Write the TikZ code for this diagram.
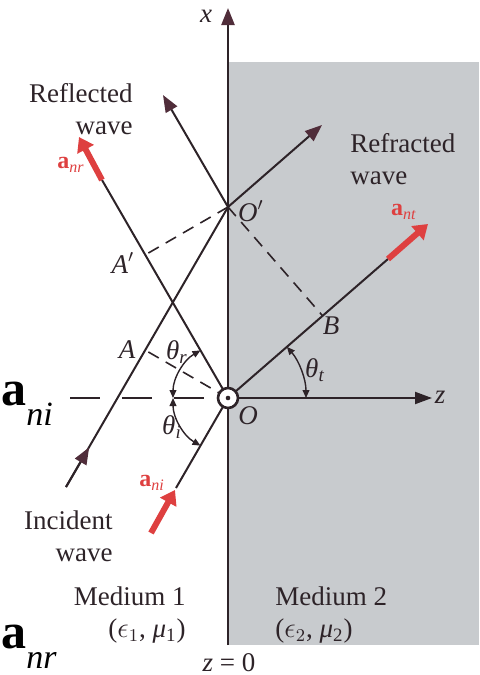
\documentclass[tikz,border=0pt]{standalone}
\usepackage{fontspec}
\setmainfont{Liberation Serif}
\usetikzlibrary{arrows.meta,calc}
\definecolor{lineC}{RGB}{45,35,40}
\definecolor{tipC}{RGB}{80,45,58}
\definecolor{redC}{RGB}{222,64,64}
\definecolor{grayC}{RGB}{200,203,206}
\newcommand{\redvec}[1]{\textbf{a}\textsubscript{\textit{#1}}}
\newcommand{\bigvec}[1]{{\fontsize{25}{28}\selectfont\textbf{a}}\raisebox{-10pt}{\fontsize{17}{19}\selectfont\textit{#1}}}
\begin{document}
\begin{tikzpicture}[x=0.5pt,y=-0.5pt,
  ray/.style={line width=1pt, draw=lineC},
  raytip/.style={ray,-{Triangle[length=8.5pt,width=6.5pt,color=tipC]}},
  redarrow/.style={line width=3pt, draw=redC, -{Triangle[length=7pt,width=9pt]}},
  dashline/.style={line width=0.8pt, draw=lineC, dash pattern=on 6pt off 4pt},
  hdash/.style={line width=0.8pt, draw=lineC, dash pattern=on 15pt off 11pt},
  angarc/.style={line width=0.7pt, draw=lineC, {Triangle[length=4pt,width=3.4pt]}-{Triangle[length=4pt,width=3.4pt]}},
  lbl/.style={inner sep=0pt, text=lineC, font=\fontsize{13.5}{16}\selectfont},
  mlbl/.style={inner sep=0pt, text=lineC, font=\fontsize{13.5}{16}\selectfont\itshape},
  rlbl/.style={inner sep=0pt, text=redC, font=\fontsize{12}{14}\selectfont},
  big/.style={inner sep=0pt, text=black, anchor=base west}
]
\useasboundingbox (0,0) rectangle (479,675);
% medium 2
\fill[grayC] (228,62) rectangle (479,645);
% key points
\coordinate (O) at (228,398);
\coordinate (Op) at (228,207);
\coordinate (Xtop) at (228,8);
\coordinate (Xbot) at (228,645);
\coordinate (Zend) at (432,398);
\coordinate (Hstart) at (70,398);
\coordinate (I1s) at (176,488);
\coordinate (I2s) at (66,487);
\coordinate (I2m) at (89.2,447.3);
\coordinate (R1e) at (102,180);
\coordinate (R2e) at (163,95);
\coordinate (T1e) at (388,259);
\coordinate (T2e) at (322,125);
\coordinate (Ap) at (145.3,254.8);
\coordinate (A) at (145.3,350.2);
\coordinate (B) at (322.6,315.8);
\coordinate (NIs) at (151,533);
\coordinate (NIe) at (175,490);
\coordinate (NRe) at (79,137);
\coordinate (NTe) at (428,224);
% axes
\draw[ray, line width=1.2pt, -{Triangle[length=8.5pt,width=6.5pt,color=tipC]}] (Xbot) -- (Xtop);
\draw[hdash] (Hstart) -- (O);
\draw[ray, -{Triangle[length=8.5pt,width=6pt,color=lineC]}] (O) -- (Zend);
% dashed wavefronts
\draw[dashline] (Op) -- (Ap);
\draw[dashline] (O) -- (A);
\draw[dashline] (Op) -- (B);
% incident rays
\draw[ray] (I1s) -- (O);
\draw[ray] (I2s) -- (Op);
\draw[ray, -{Triangle[length=8.5pt,width=6.5pt,color=tipC]}] (I2s) -- (I2m);
% reflected rays
\draw[ray] (O) -- (R1e);
\draw[raytip] (Op) -- (R2e);
% refracted rays
\draw[ray] (O) -- (T1e);
\draw[raytip] (Op) -- (T2e);
% unit vectors
\draw[redarrow] (NIs) -- (NIe);
\draw[redarrow] (R1e) -- (NRe);
\draw[redarrow] (T1e) -- (NTe);
% angle arcs
\draw[angarc] ($(O)+(-55,0)$) arc[start angle=180, end angle=240, radius=55];
\draw[angarc] ($(O)+(-55,0)$) arc[start angle=180, end angle=120, radius=55];
\draw[angarc] ($(O)+(78,0)$) arc[start angle=0, end angle=-41, radius=78];
% origin symbol
\draw[line width=1.3pt, draw=lineC, fill=white] (O) circle[radius=10];
\fill[lineC] (O) circle[radius=2.3];
% labels
\node[mlbl] (xl) at (206,16) {x};
\node[mlbl] (zl) at (440,397) {z};
\node[mlbl] (Ol) at (248,416) {O};
\node[mlbl] (Opl) at (251,211) {O$'$};
\node[mlbl] (Apl) at (123,263) {A$'$};
\node[mlbl] (Al) at (127,350) {A};
\node[mlbl] (Bl) at (331,326) {B};
\node[mlbl] (thr) at (177,352) {θ\textsubscript{r}};
\node[mlbl] (thi) at (172,427) {θ\textsubscript{i}};
\node[mlbl] (tht) at (315,370) {θ\textsubscript{t}};
\node[lbl, anchor=east, align=right] (refl) at (133,109) {Reflected\\wave};
\node[lbl, anchor=west, align=left] (refr) at (350,159) {Refracted\\wave};
\node[lbl, anchor=east, align=right] (inc) at (113,536) {Incident\\wave};
\node[lbl, anchor=east, align=right] (med1) at (186,615) {Medium 1\\($\epsilon_1$, \textit{μ}\textsubscript{1})};
\node[lbl, anchor=west, align=left] (med2) at (275,615) {Medium 2\\($\epsilon_2$, \textit{μ}\textsubscript{2})};
\node[lbl] (z0) at (229,663) {\textit{z} = 0};
\node[rlbl] (anr) at (71,165) {\redvec{nr}};
\node[rlbl] (ant) at (404,212) {\redvec{nt}};
\node[rlbl] (ani) at (152,483) {\redvec{ni}};
\node[big] (bigni) at (1,405) {\bigvec{ni}};
\node[big] (bignr) at (1,648) {\bigvec{nr}};
\end{tikzpicture}
\end{document}
